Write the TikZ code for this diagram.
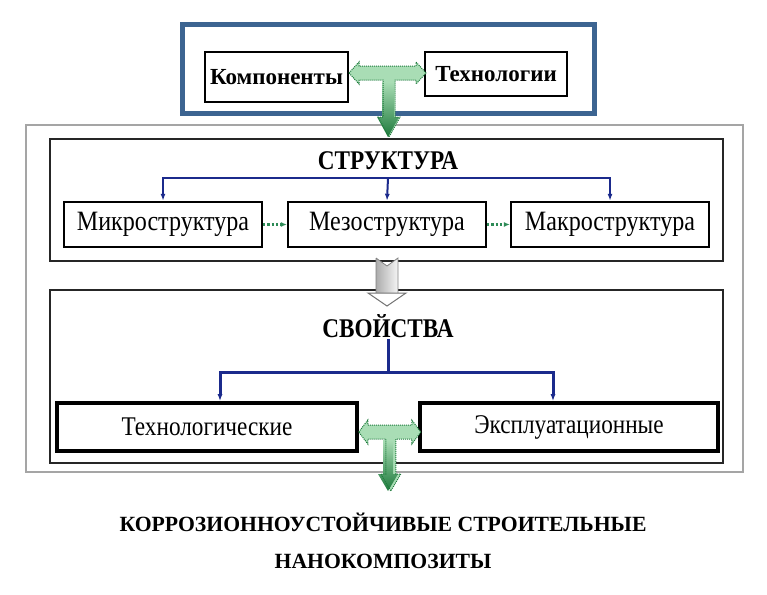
\documentclass[tikz,border=0pt]{standalone}
\usepackage{fontspec}
\setmainfont{Liberation Serif}
\newfontfamily\narrowserif[FakeStretch=0.86]{Liberation Serif}
\usetikzlibrary{arrows.meta, positioning, calc}
\usepackage{xcolor}
\definecolor{frameblue}{HTML}{3C6491}
\definecolor{linkblue}{HTML}{1B2A8C}
\definecolor{leafgreen}{HTML}{A9DDB5}
\definecolor{pinegreen}{HTML}{1E7A3C}
\definecolor{dotgreen}{HTML}{2E8B57}
\definecolor{outgray}{HTML}{A5A5A5}

\begin{document}
\begin{tikzpicture}[x=1pt, y=-1pt,
  cell/.style={draw, line width=2.4pt, inner sep=0pt, font=\narrowserif\fontsize{28}{30}\selectfont},
  keycell/.style={draw, line width=2pt, inner sep=0pt, font=\bfseries\fontsize{23}{26}\selectfont},
  propcell/.style={draw, line width=3.6pt, inner sep=0pt, font=\narrowserif\fontsize{27}{29}\selectfont},
  panel/.style={draw=black!85, line width=1.3pt, inner sep=0pt},
  heading/.style={font=\narrowserif\bfseries\fontsize{27}{29}\selectfont, inner sep=1pt},
  linkline/.style={draw=linkblue, line width=2pt},
  linkarrow/.style={linkline, -{Latex[length=7pt, width=5pt]}},
  dotlink/.style={draw=dotgreen, line width=2.2pt, dotted, -{Latex[length=6pt, width=5pt]}},
  teefill/.style={fill=leafgreen},
  teeshade/.style={top color=leafgreen, bottom color=pinegreen},
  teeline/.style={draw=pinegreen, line width=1pt, densely dotted}
]
\useasboundingbox (0,0) rectangle (767,594);

% frames
\node[draw=frameblue, line width=5pt, minimum width=412, minimum height=89, inner sep=0pt] (inputs) at (388,69) {};
\node[draw=outgray, line width=2.5pt, minimum width=717, minimum height=347, inner sep=0pt] (outer) at (384.5,298.5) {};
\node[panel, minimum width=673, minimum height=122] (strpanel) at (386.5,200) {};
\node[panel, minimum width=673, minimum height=173] (proppanel) at (386.5,376.5) {};

% inputs
\node[keycell, minimum width=143, minimum height=50] (comp) at (276.5,77) {Компоненты};
\node[keycell, minimum width=142, minimum height=44] (tech) at (496,74) {Технологии};

% structure
\node[heading] (strtitle) at (388,161) {СТРУКТУРА};
\node[cell, minimum width=198, minimum height=45] (micro) at (163,224.5) {Микроструктура};
\node[cell, minimum width=198, minimum height=45] (meso) at (387,224.5) {Мезоструктура};
\node[cell, minimum width=198, minimum height=45] (macro) at (610,224.5) {Макроструктура};

% properties
\node[heading] (proptitle) at (388,326) {СВОЙСТВА};
\node[propcell, minimum width=300, minimum height=48] (techprop) at (207,427) {Технологические};
\node[propcell, minimum width=298, minimum height=48] (exprop) at (569,427) {Эксплуатационные};

% result
\node[font=\bfseries\fontsize{21.7}{37}\selectfont, align=center] (result) at (383,541)
  {КОРРОЗИОННОУСТОЙЧИВЫЕ СТРОИТЕЛЬНЫЕ\\НАНОКОМПОЗИТЫ};

% blue links
\coordinate (strbar) at (388,178);
\draw[linkarrow] (strbar) -| (micro.north);
\draw[linkarrow] (strbar) -| (macro.north);
\draw[linkarrow] (strbar) -- (meso.north);
\coordinate (propbar) at (388,372);
\draw[linkline, line width=3pt] (proptitle.south) -- (propbar);
\draw[linkarrow, line width=3pt] (propbar) -| ($(techprop.north)+(13,0)$);
\draw[linkarrow, line width=3pt] (propbar) -| ($(exprop.north)+(-16,0)$);

% green links
\draw[dotlink] (micro) -- (meso);
\draw[dotlink] (meso) -- (macro);

% T arrow, inputs -> structure
\coordinate (teetop) at (comp.east |- 0,73);
\fill[teefill] (teetop) -- ++(10,-11) -- ++(0,4) -- ++(57,0) -- ++(0,-4) -- ++(10,11) -- ++(-10,11)
  -- ++(0,-4) -- ++(-21,0) -- ++(0,37) -- ++(5,0) -- ++(-11,20) -- ++(-11,-20) -- ++(5,0)
  -- ++(0,-37) -- ++(-24,0) -- ++(0,4) -- cycle;
\shade[teeshade] (382,82) -- (394,82) -- (394,117) -- (399,117) -- (388,137) -- (377,117) -- (382,117) -- cycle;
\draw[teeline] (teetop) -- ++(10,-11) -- ++(0,4) -- ++(57,0) -- ++(0,-4) -- ++(10,11) -- ++(-10,11)
  -- ++(0,-4) -- ++(-21,0) -- ++(0,37) -- ++(5,0) -- ++(-11,20) -- ++(-11,-20) -- ++(5,0)
  -- ++(0,-37) -- ++(-24,0) -- ++(0,4) -- cycle;

% hollow arrow, structure -> properties
\shade[left color=gray!65, right color=gray!8] (376,258) -- (387,266) -- (398,258) -- (398,293) -- (376,293) -- cycle;
\draw[gray, line width=0.8pt] (376,258) -- (387,266) -- (398,258) -- (398,293) (376,293) -- (376,258);
\filldraw[fill=white, draw=gray!90!black, line width=1pt] (368,293) -- (406,293) -- (387,306) -- cycle;

% T arrow, properties -> result
\coordinate (teelow) at (techprop.east |- 0,432);
\fill[teefill] (teelow) -- ++(9,-12) -- ++(0,5) -- ++(44,0) -- ++(0,-5) -- ++(9,12) -- ++(-9,12)
  -- ++(0,-5) -- ++(-16,0) -- ++(0,35) -- ++(5,0) -- ++(-10,17) -- ++(-10,-17) -- ++(5,0)
  -- ++(0,-35) -- ++(-18,0) -- ++(0,5) -- cycle;
\shade[teeshade] (383,440) -- (393,440) -- (393,474) -- (398,474) -- (388,491) -- (378,474) -- (383,474) -- cycle;
\draw[teeline] (teelow) -- ++(9,-12) -- ++(0,5) -- ++(44,0) -- ++(0,-5) -- ++(9,12) -- ++(-9,12)
  -- ++(0,-5) -- ++(-16,0) -- ++(0,35) -- ++(5,0) -- ++(-10,17) -- ++(-10,-17) -- ++(5,0)
  -- ++(0,-35) -- ++(-18,0) -- ++(0,5) -- cycle;
\end{tikzpicture}
\end{document}
